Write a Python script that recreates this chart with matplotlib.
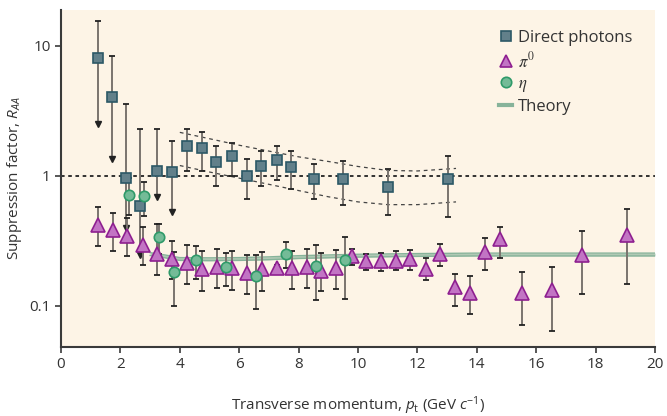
import numpy as np
import matplotlib.pyplot as plt
from matplotlib.lines import Line2D
from matplotlib.font_manager import FontProperties
from matplotlib.ticker import FixedLocator, FixedFormatter, NullLocator

plt.rcParams['font.family'] = ['Open Sans', 'DejaVu Sans']
plt.rcParams['mathtext.fontset'] = 'custom'
plt.rcParams['mathtext.rm'] = 'Open Sans'
plt.rcParams['mathtext.it'] = 'Open Sans:italic'

# direct photons
gam_x = [1.24, 1.73, 2.19, 2.67, 3.23, 3.74, 4.24, 4.75, 5.23, 5.76, 6.25, 6.75,
         7.26, 7.74, 8.51, 9.49, 11.02, 13.02]
gam_y = [8.1, 4.07, 0.97, 0.59, 1.09, 1.07, 1.70, 1.65, 1.28, 1.42, 1.00, 1.20,
         1.33, 1.17, 0.94, 0.95, 0.82, 0.95]
gam_hi = [15.6, 8.3, 3.58, 2.28, 2.28, 1.85, 2.30, 2.16, 1.70, 1.78, 1.34, 1.56,
          1.69, 1.54, 1.24, 1.30, 1.13, 1.41]
gam_lo = [2.5, 1.35, 0.40, 0.244, 0.685, 0.53, 1.08, 1.09, 0.83, 0.99, 0.665, 0.84,
          0.93, 0.785, 0.66, 0.60, 0.50, 0.486]
gam_limit = [True, True, True, True, True, True] + [False] * 12

# pi0
pi_x = [1.26, 1.74, 2.23, 2.75, 3.24, 3.74, 4.24, 4.75, 5.24, 5.75, 6.25, 6.76,
        7.26, 7.77, 8.27, 8.75, 9.27, 9.79, 10.27, 10.77, 11.28, 11.75, 12.29,
        12.77, 13.26, 13.78, 14.28, 14.78, 15.52, 16.53, 17.55, 19.05]
pi_y = [0.415, 0.38, 0.347, 0.296, 0.251, 0.231, 0.215, 0.191, 0.20, 0.195, 0.18,
        0.191, 0.196, 0.195, 0.198, 0.184, 0.196, 0.24, 0.22, 0.22, 0.222, 0.227,
        0.193, 0.251, 0.139, 0.126, 0.257, 0.324, 0.126, 0.133, 0.248, 0.352]
pi_hi = [0.574, 0.52, 0.475, 0.407, 0.427, 0.314, 0.291, 0.262, 0.271, 0.263, 0.247,
         0.259, 0.205, 0.266, 0.271, 0.256, 0.27, 0.271, 0.251, 0.256, 0.263, 0.268,
         0.234, 0.30, 0.176, 0.168, 0.331, 0.405, 0.183, 0.20, 0.375, 0.553]
pi_lo = [0.287, 0.262, 0.24, 0.207, 0.173, 0.16, 0.148, 0.131, 0.138, 0.133, 0.124,
         0.131, 0.188, 0.135, 0.137, 0.129, 0.135, 0.207, 0.189, 0.186, 0.189, 0.187,
         0.157, 0.202, 0.10, 0.087, 0.189, 0.234, 0.071, 0.064, 0.123, 0.148]

# eta
eta_x = [2.30, 2.79, 3.29, 3.80, 4.55, 5.56, 6.55, 7.56, 8.58, 9.56]
eta_y = [0.714, 0.70, 0.337, 0.183, 0.226, 0.20, 0.169, 0.252, 0.202, 0.223]
eta_hi = [0.97, 0.893, 0.427, 0.26, 0.29, 0.256, 0.247, 0.309, 0.295, 0.337]
eta_lo = [0.50, 0.495, 0.25, 0.10, 0.161, 0.143, 0.095, 0.196, 0.11, 0.112]

# theory for pi0 / eta
th_x = [3.0, 3.5, 4.0, 5.0, 6.0, 7.0, 8.0, 9.0, 10.0, 12.0, 14.0, 16.0, 18.0, 20.0]
th_y = [0.25, 0.24, 0.229, 0.228, 0.229, 0.232, 0.237, 0.240, 0.243, 0.246, 0.248,
        0.248, 0.248, 0.248]

# direct photon theory band (dashed)
band_x = [4.0, 5.0, 6.0, 7.0, 8.0, 9.0, 10.0, 11.0, 12.0, 13.3]
band_hi = [2.16, 1.93, 1.72, 1.55, 1.40, 1.29, 1.18, 1.10, 1.09, 1.14]
band_lo = [1.20, 1.07, 0.96, 0.86, 0.77, 0.69, 0.63, 0.60, 0.60, 0.63]

bg = '#fdf4e6'
sq_face, sq_edge = '#62808a', '#2c5866'
tri_face, tri_edge = '#c274c4', '#8e1f90'
cir_face, cir_edge = '#74bb97', '#2f9a69'
th_col = '#87b39a'
err_col = '#7a746e'
txt = '#333333'

fig = plt.figure(figsize=(6.67, 4.16), dpi=100)
ax = fig.add_axes([0.0915, 0.1666, 0.8905, 0.8094])
ax.set_facecolor(bg)

ax.axhline(1.0, color='#222222', lw=1.3, ls=(0, (2, 2)), zorder=1)
ax.plot(band_x, band_hi, color='#444444', lw=0.9, ls=(0, (3, 3)), zorder=1)
ax.plot(band_x, band_lo, color='#444444', lw=0.9, ls=(0, (3, 3)), zorder=1)

th_y = np.array(th_y)
ax.fill_between(th_x, th_y * 0.975, th_y * 1.025, color=th_col, alpha=0.65, lw=0, zorder=2)
ax.plot(th_x, th_y * 0.975, color=th_col, lw=1.0, zorder=2)
ax.plot(th_x, th_y * 1.025, color=th_col, lw=1.0, zorder=2)


def bars(x, y, lo, hi, face, edge, marker, ms, limit=None):
    x = np.array(x)
    y = np.array(y)
    lo = np.array(lo)
    hi = np.array(hi)
    if limit is None:
        limit = [False] * len(x)
    limit = np.array(limit)
    ax.vlines(x, lo, hi, color=err_col, lw=1.4, zorder=3)
    ax.plot(x, hi, ls='none', marker='_', ms=4.5, mew=1.3, color='#222222', zorder=3)
    ax.plot(x[~limit], lo[~limit], ls='none', marker='_', ms=4.5, mew=1.3,
            color='#222222', zorder=3)
    if limit.any():
        ax.plot(x[limit], lo[limit], ls='none', marker='v', ms=4.5,
                color='#222222', zorder=3)
    ax.plot(x, y, ls='none', marker=marker, ms=ms, mfc=face, mec=edge, mew=1.2,
            zorder=4)


bars(gam_x, gam_y, gam_lo, gam_hi, sq_face, sq_edge, 's', 7, gam_limit)
bars(pi_x, pi_y, pi_lo, pi_hi, tri_face, tri_edge, '^', 9.5)
bars(eta_x, eta_y, eta_lo, eta_hi, cir_face, cir_edge, 'o', 7.5)

ax.set_yscale('log')
ax.set_xlim(0, 20)
ax.set_ylim(0.0484, 18.9)
ax.yaxis.set_major_locator(FixedLocator([0.1, 1, 10]))
ax.yaxis.set_major_formatter(FixedFormatter(['0.1', '1', '10']))
ax.yaxis.set_minor_locator(NullLocator())
ax.set_xticks(range(0, 21, 2))

for s in ['top', 'right']:
    ax.spines[s].set_visible(False)
for s in ['left', 'bottom']:
    ax.spines[s].set_color('#3a3a3a')
    ax.spines[s].set_linewidth(1.5)
ax.tick_params(colors='#3a3a3a', labelcolor=txt, labelsize=11, length=4, width=1.2)

ax.set_xlabel('Transverse momentum, $p_\\mathrm{t}$ (GeV $c^{-1}$)', fontsize=11,
              color=txt, labelpad=16)
ax.set_ylabel('Suppression factor, $R_{AA}$', fontsize=11, color=txt, labelpad=4)

handles = [
    Line2D([], [], ls='none', marker='s', ms=7, mfc=sq_face, mec=sq_edge, mew=1.2),
    Line2D([], [], ls='none', marker='^', ms=9, mfc=tri_face, mec=tri_edge, mew=1.2),
    Line2D([], [], ls='none', marker='o', ms=7.5, mfc=cir_face, mec=cir_edge, mew=1.2),
    Line2D([], [], color=th_col, lw=3),
]
labels = ['Direct photons', '$\\pi^0$', '$\\eta$', 'Theory']
leg_font = FontProperties(family=['Open Sans', 'DejaVu Sans'], size=12,
                          math_fontfamily='stix')
ax.legend(handles, labels, loc='upper left', bbox_to_anchor=(0.712, 0.985), frameon=False,
          prop=leg_font, handlelength=0.8, handletextpad=0.35, labelspacing=0.3,
          labelcolor=txt)

fig.savefig('out.png', dpi=100, facecolor='white')
